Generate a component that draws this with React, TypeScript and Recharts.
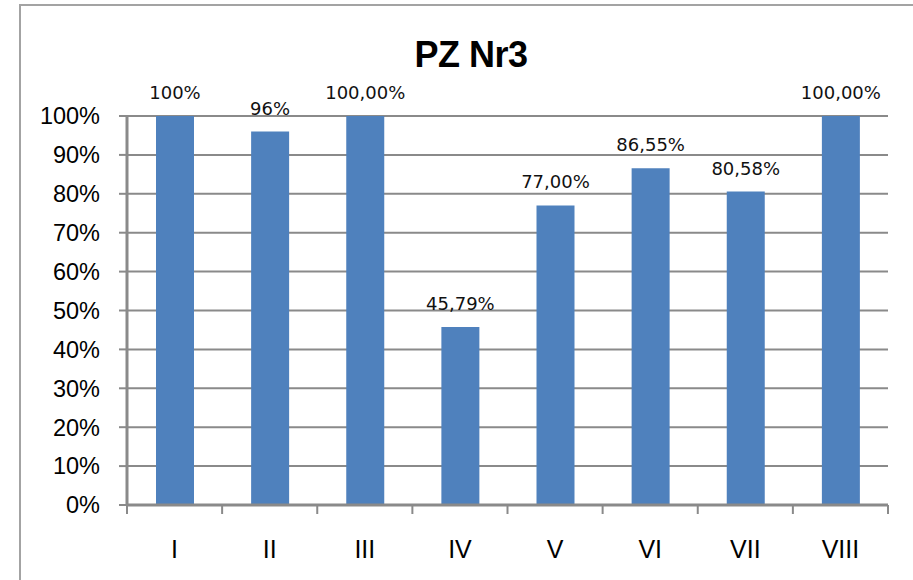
import { BarChart, Bar, XAxis, YAxis, CartesianGrid, LabelList } from "recharts";

const categories = ["I", "II", "III", "IV", "V", "VI", "VII", "VIII"];
const values = [100, 96, 100, 45.79, 77, 86.55, 80.58, 100];
const valueLabels = ["100%", "96%", "100,00%", "45,79%", "77,00%", "86,55%", "80,58%", "100,00%"];
const yTicks = [0, 10, 20, 30, 40, 50, 60, 70, 80, 90, 100];

const data = categories.map((name, i) => ({ name, value: values[i], label: valueLabels[i] }));

const W = 913;
const H = 580;
const Y_AXIS_W = 127;
const RIGHT = 25;
const BAND = (W - Y_AXIS_W - RIGHT) / categories.length;
const AXIS_GRAY = "#8a8a8a";

const CategoryTick = (props: any) => {
    const { x, y, payload, index } = props;
    return (
        <g>
            <line x1={x - BAND / 2} y1={y} x2={x - BAND / 2} y2={y + 9} stroke={AXIS_GRAY} strokeWidth={2} />
            {index === categories.length - 1 && (
                <line x1={x + BAND / 2} y1={y} x2={x + BAND / 2} y2={y + 9} stroke={AXIS_GRAY} strokeWidth={2} />
            )}
            <text x={x} y={y + 53} textAnchor="middle" fontSize={25} fill="#000"
                  fontFamily="'Liberation Sans', Arial, sans-serif">
                {payload.value}
            </text>
        </g>
    );
};

export default function App() {
    return (
        <div style={{ position: "absolute", left: 0, top: 0, width: W, height: H, overflow: "hidden", background: "#fff" }}>
            {/* marco del gráfico */}
            <div style={{
                position: "absolute", left: 19, top: 4, width: 1000, height: 1000,
                borderLeft: "2.5px solid #a3a3a3", borderTop: "2.5px solid #a3a3a3"
            }} />
            <div style={{
                position: "absolute", left: 0, width: 942, top: 35, textAlign: "center",
                fontFamily: "'Liberation Sans', Arial, sans-serif", fontWeight: "bold", fontSize: 36,
                lineHeight: "40px", color: "#000", letterSpacing: "-0.5px"
            }}>
                PZ Nr3
            </div>
            <div style={{ position: "absolute", left: 0, top: 0 }}>
                <BarChart width={W} height={H} data={data}
                          margin={{ top: 116, right: RIGHT, bottom: 35, left: 0 }}>
                    <CartesianGrid vertical={false} stroke={AXIS_GRAY} strokeWidth={2} />
                    <XAxis
                        dataKey="name"
                        height={40}
                        axisLine={{ stroke: AXIS_GRAY, strokeWidth: 3 }}
                        tickLine={false}
                        tickSize={0}
                        tickMargin={0}
                        interval={0}
                        tick={<CategoryTick />}
                    />
                    <YAxis
                        width={Y_AXIS_W}
                        domain={[0, 100]}
                        ticks={yTicks}
                        interval={0}
                        tickFormatter={(v) => `${v}%`}
                        axisLine={{ stroke: AXIS_GRAY, strokeWidth: 3 }}
                        tickLine={{ stroke: AXIS_GRAY, strokeWidth: 2 }}
                        tickSize={8}
                        tickMargin={19}
                        tick={{ fill: "#000", fontSize: 23.5, fontFamily: "'Liberation Sans', Arial, sans-serif" }}
                    />
                    <Bar dataKey="value" fill="#4f81bd" barSize={38} isAnimationActive={false}>
                        <LabelList dataKey="label" position="top" offset={17} fill="#111" fontSize={18}
                                   fontFamily="'DejaVu Sans', sans-serif" />
                    </Bar>
                </BarChart>
            </div>
        </div>
    );
}
